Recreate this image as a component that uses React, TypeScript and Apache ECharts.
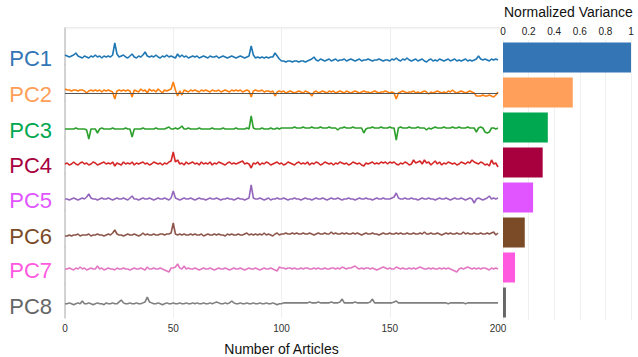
import { useEffect, useRef } from "react";
import * as echarts from "echarts";

const components = ["PC1", "PC2", "PC3", "PC4", "PC5", "PC6", "PC7", "PC8"];

const pc1 = [
  2, 1, 0, 1, 2, 4, 1, 0, -1, 1,
  0, -1, 1, 0, 2, 0, 1, -1, 1, 0,
  1, 0, 2, 14, 3, 0, 1, 2, 0, -1,
  1, 3, 0, -1, 1, 0, 2, 5, 1, 0,
  1, 0, 2, 0, -1, 1, 0, 2, 0, 1,
  0, -1, 3, 0, 2, 0, 1, -1, 0, 1,
  0, 1, -1, 0, 1, 0, -1, 1, 0, 0,
  1, -1, 0, 1, 0, -1, 0, 1, 0, -1,
  0, 1, 0, -1, 0, 1, 11, 2, -1, 0,
  -1, 0, -1, 0, -1, 0, 0, 4, 1, -2,
  -4, -4, -5, -4, -4, -5, -4, -4, -5, -4,
  -4, -5, -4, -3, -2, 0, -3, -4, -2, -3,
  -4, -3, -2, -4, -3, -2, -4, -3, -3, -2,
  -4, -3, -2, -3, -4, -3, -2, -4, -3, -3,
  -2, -3, -4, -3, -3, -2, -3, -4, -3, -3,
  -4, -2, -3, -1, -3, -4, -2, -3, -1, -3,
  -4, -3, -2, -4, -3, -2, -4, -5, -3, -2,
  -4, -3, -4, -2, -3, -4, -3, -2, -4, -3,
  -2, -4, -3, -4, -3, -2, -4, -3, -4, -3,
  -2, 1, -2, -3, -2, -3, -4, -2, -3, -2,
  -3,
];

const pc2 = [
  4, 3, 3, 2, 3, 3, 2, 3, 3, 2,
  0, 2, 3, 2, 3, 2, 3, 1, 3, 2,
  3, 2, 1, -6, 2, 3, 2, 3, 2, 3,
  2, -4, 3, 2, 1, 4, 2, 3, 0, 4,
  2, 3, 1, 4, 2, 0, 3, 2, 3, 4,
  11, 3, -3, 2, -2, 3, 2, 1, 3, 2,
  3, 2, 1, 3, 2, 3, 2, 1, 3, 2,
  2, 3, 1, 2, 3, 2, 1, 3, 2, 3,
  2, 3, 1, 2, 3, 2, -4, 2, 3, 2,
  2, 3, 1, 2, 2, 1, 2, -3, 1, 2,
  1, 2, 0, 1, 2, 1, 0, 1, 2, 1,
  0, 2, 1, 0, -3, 1, 2, 0, 1, 2,
  1, 0, 2, 1, 2, 0, 1, 2, 1, 0,
  2, 1, 0, 1, 2, 1, 0, 1, 2, 1,
  1, 0, 1, 2, 1, 0, 1, 1, 2, 1,
  0, 1, 0, -6, 0, 1, 2, 1, 0, 1,
  1, 2, 0, 1, 0, 1, 2, 1, -1, 1,
  0, 1, 2, 1, 0, 1, 0, 2, 1, 3,
  1, 0, 1, 2, 1, 0, 1, 2, 1, 0,
  -3, -3, -3, -2, -3, -3, -2, -3, -4, -2,
  1,
];

const pc3 = [
  0, 0, 0, 0, 0, 1, 0, 0, 0, 0,
  -1, -10, 0, 0, 0, -4, 0, 1, 0, 0,
  0, 0, 1, 0, 0, 0, 0, 0, 1, 0,
  0, -8, 0, 0, 0, 0, 1, 0, 0, 0,
  0, 0, 1, 0, 0, 0, 0, 1, 2, 0,
  0, 1, 0, 1, 3, 0, 0, 1, 0, 0,
  0, 0, 1, 0, 0, 0, 0, 0, 1, 0,
  0, 0, 0, 1, 0, 0, 0, 0, 0, 1,
  0, 0, 0, 0, 1, 0, 13, 1, 0, 0,
  0, 1, 0, 0, 0, 1, 0, 0, 1, 0,
  1, 1, 1, 1, 1, 1, 2, 1, 1, 1,
  2, 1, 1, 1, 2, 1, 1, 1, 2, 1,
  1, 1, 2, 1, 1, 1, -1, 1, 1, 2,
  1, 1, 1, 2, 1, 1, 1, 1, -4, 0,
  1, 1, 2, 1, 1, 1, 2, 1, 1, 1,
  2, 1, 1, -11, 1, 2, 1, 1, 1, 2,
  1, 1, 1, 2, 1, 1, 1, -1, 1, 0,
  1, 2, 1, 1, 1, 2, 1, 1, 1, 2,
  1, 1, 2, 1, 1, 1, 2, 1, 1, 1,
  -3, 1, 2, 1, -3, -4, -3, 1, 1, 0,
  1,
];

const pc4 = [
  0, 1, -1, 0, 2, 0, -1, 1, 2, 0,
  1, -1, 0, 2, 1, -1, 0, 1, 2, 0,
  1, 0, 2, -2, 1, 0, -1, 2, 0, 1,
  0, 2, -1, 1, 0, 1, 2, 0, 1, -1,
  0, 2, 1, 0, 1, -1, 1, 0, 2, 3,
  12, 2, 4, 0, 1, -1, 2, 0, 1, 2,
  0, 1, -1, 2, 0, 1, 0, 2, -1, 1,
  0, 2, 1, 0, -1, 1, 2, 0, 1, 0,
  1, 2, 3, 0, 1, 0, -4, 1, 0, 2,
  -1, 1, 0, 2, 1, -1, 0, 1, 2, 0,
  1, -1, 0, 2, 1, 0, -1, 1, 2, 0,
  1, 0, 2, -1, 1, 0, 2, 1, -1, 0,
  2, 1, 0, 1, -1, 1, 0, 2, 1, 0,
  1, -1, 0, 2, 1, 0, 1, -1, -2, 1,
  0, 1, 2, 0, 1, 0, 2, 1, 2, 0,
  2, 1, 2, 0, -1, 1, 0, 2, 1, -1,
  0, 4, 1, 2, 3, 0, 4, 1, 2, -1,
  1, 3, 0, 2, -1, 1, 0, 2, 1, 0,
  1, -1, 0, 2, 1, 0, 2, 1, 4, 2,
  1, 0, 2, 1, -1, 0, -2, 4, 0, 1,
  -3,
];

const pc5 = [
  0, 0, -1, 0, 1, 0, -1, 0, 1, 0,
  2, 5, 1, 0, 0, -1, 0, 1, 0, 0,
  1, 0, -1, 0, 1, 0, 0, 1, 0, -1,
  1, 3, 0, 0, -1, 0, 1, 0, 0, 1,
  0, -1, 0, 1, 0, 0, 1, 0, -1, 1,
  8, 1, 0, -1, 0, 1, 0, 0, 1, 0,
  -1, 0, 1, 0, 0, -1, 0, 1, 0, 0,
  1, 0, -1, 0, 0, 1, 0, 0, -1, 0,
  1, 0, 0, -1, 0, 1, 14, 1, 0, 0,
  1, 0, -1, 0, 1, -1, 0, 0, 1, 0,
  0, 1, 0, -1, 0, 0, 1, 0, 0, -1,
  0, 1, 0, 0, -1, 0, 1, 0, 0, 1,
  0, -1, 0, 1, 0, 0, 1, 0, -1, 0,
  0, 1, 0, 0, -1, 0, 1, 0, 0, 1,
  0, 0, -1, 0, 1, 0, 0, 1, 0, 0,
  0, 1, 2, 6, 1, 0, 0, 1, 0, 0,
  1, 0, 0, -1, 0, 1, 0, 0, 1, 0,
  0, -1, 0, 1, 0, 0, 1, 0, -1, 0,
  1, 0, 0, 1, 0, -1, 0, 1, 0, -4,
  0, 1, 0, -1, 0, 1, 3, 0, 1, 0,
  1,
];

const pc6 = [
  -1, -1, 0, -1, 0, 0, 1, -1, 0, 0,
  0, 1, -1, 0, 0, 1, 0, 0, -1, 0,
  1, 0, 2, 5, 1, 0, 0, -1, 0, 1,
  0, 0, 1, 0, -1, 0, 2, 0, 1, 0,
  0, 1, 0, 0, 1, 1, 0, 1, 1, 2,
  12, 1, 0, 1, 0, 1, 0, 0, 1, 0,
  1, 0, 0, 1, -1, 0, 1, 0, 0, 1,
  0, 1, 0, 0, -1, 1, 0, 1, 0, 0,
  1, 0, 0, 1, 2, 0, 1, 0, 1, 0,
  1, 0, 2, 0, 1, 0, -1, 1, 2, 0,
  1, 1, 2, 1, 1, 2, 1, 2, 1, 1,
  2, 1, 1, 2, 1, 0, 1, 2, 1, 1,
  2, 1, 1, 3, 1, 2, 1, 1, 2, 1,
  2, 1, 1, 2, 1, 2, 1, 0, 1, 2,
  1, 1, 2, 1, 1, 0, 1, 2, 1, 1,
  2, 1, 1, 2, 1, 2, 1, 1, 2, 1,
  1, 2, 1, 1, 2, 1, 3, 1, 1, 2,
  1, 1, 2, 1, 0, 1, 2, 1, 2, 1,
  1, 2, 1, 1, 3, 1, 2, 1, 1, 2,
  1, 1, 2, 1, 1, 2, 1, 2, 3, 0,
  2,
];

const pc7 = [
  0, 0, 1, 0, -1, 1, 0, 2, 0, 1,
  -1, 0, 1, 0, 0, 3, 0, 1, -1, 0,
  1, 0, 0, -1, 1, 0, 0, 1, 0, 0,
  -1, 0, 1, 0, 0, 1, 0, -1, 2, 0,
  0, 1, 0, 0, 1, 0, -1, -2, -3, 1,
  1, 2, 5, 1, 0, 3, 0, 1, 0, 0,
  1, 0, -1, 0, 1, 0, 0, 1, 0, -1,
  0, 1, 0, 0, 1, 0, -1, 0, 1, 0,
  0, 1, 0, -1, 0, 1, 0, 0, 1, 0,
  -1, 0, 1, 0, 0, 1, 0, -1, -2, 2,
  1, 1, 0, 1, 1, 0, 1, 0, 0, 1,
  0, 1, 1, 0, 0, 1, 0, 1, 0, 0,
  1, 0, 0, 1, 1, 0, 1, 0, 2, 1,
  0, 1, 1, 2, 3, 1, 0, 1, 0, 1,
  1, 0, 1, 0, -1, 0, 1, 2, 1, 0,
  1, 0, 0, 2, 1, 0, 1, 0, 0, 1,
  0, 1, 0, 1, 2, 1, 0, 0, 1, 0,
  1, 0, 0, 1, 0, 1, 0, 1, 0, -1,
  -2, -3, 0, 1, 0, 1, 2, 1, 0, 1,
  0, 1, 0, 1, 1, 0, -1, 1, 0, 1,
  0,
];

const pc8 = [
  0, 0, 1, 0, -1, 0, 1, 0, 3, 0,
  0, 1, 0, -1, 0, 1, 0, 0, -1, 1,
  0, 0, 1, 0, 0, 2, 4, 1, 0, 0,
  1, 0, 0, 1, 0, 0, 1, 2, 7, 2,
  1, 0, 0, 1, 0, -1, 0, 1, 0, 0,
  1, 0, 0, 1, 0, 0, 1, 0, 0, 1,
  0, 1, 0, 0, 1, 0, 0, 1, 0, 1,
  2, 1, 0, 0, 1, 0, 1, 3, 1, 0,
  0, 1, 0, 0, 1, 0, 0, 1, 0, 0,
  1, 0, 0, 1, 0, 0, 1, 0, -1, 0,
  0, 1, 1, 1, 1, 1, 1, 1, 1, 1,
  1, 1, 1, 2, 1, 1, 1, 2, 1, 1,
  1, 1, 1, 2, 1, 1, 1, 2, 5, 1,
  1, 1, 1, 1, 2, 1, 1, 1, 1, 1,
  1, 2, 5, 1, 1, 1, 1, 1, 1, 1,
  1, 1, 2, 3, 1, 1, 1, 1, 1, 1,
  1, 1, 1, 1, 1, 1, 1, 1, 1, 1,
  1, 1, 1, 1, 1, 1, 1, 0, 1, 1,
  1, 1, 1, 1, 1, 0, 1, 1, 1, 1,
  1, 1, 1, 1, 1, 1, 1, 1, 1, 1,
  1,
];

const pcSeries = [pc1, pc2, pc3, pc4, pc5, pc6, pc7, pc8];

const normalizedVariance = [1, 0.545, 0.35, 0.31, 0.235, 0.17, 0.094, 0.023];

const xTickLabels = ["0", "50", "100", "150", "200"];
const varianceTickLabels = ["0", "0.2", "0.4", "0.6", "0.8", "1"];

const lineColors = ["#1f77b4", "#ff7f0e", "#2ca02c", "#d62728", "#9467bd", "#8c564b", "#e377c2", "#7f7f7f"];
const accentColors = ["#3375b5", "#ff9f5a", "#00a84f", "#a8003f", "#e055ff", "#7b4a27", "#ff5adf", "#666666"];

const FONT = '"Liberation Sans", Arial, Helvetica, sans-serif';

export default function App() {
  const ref = useRef<HTMLDivElement>(null);

  useEffect(() => {
    if (!ref.current) return;
    const chart = echarts.init(ref.current, null, { renderer: "svg" });

    const plotLeft = 65;
    const plotRight = 498;
    const plotTop = 28;
    const plotBottom = 320;
    const rowH = (plotBottom - plotTop) / 8;
    const centers = [57, 93, 129, 164, 199, 235, 269, 305];

    const grids: any[] = [];
    const xAxes: any[] = [];
    const yAxes: any[] = [];
    const series: any[] = [];

    components.forEach((name, k) => {
      const top = plotTop + rowH * k;
      const c = centers[k];
      const last = k === components.length - 1;
      grids.push({ left: plotLeft, top, width: plotRight - plotLeft, height: rowH });
      xAxes.push({
        type: "value",
        gridIndex: k,
        min: 0,
        max: 200,
        interval: 50,
        axisLine: { show: false },
        axisTick: { show: false },
        axisLabel: {
          show: last,
          fontSize: 10,
          color: "#333",
          margin: 5,
          fontFamily: FONT,
          formatter: (v: number) => xTickLabels[Math.round(v / 50)] ?? "",
        },
        splitLine: { show: true, showMaxLine: false, lineStyle: { color: "#efefef", width: 1 } },
        name: last ? "Number of Articles" : "",
        nameLocation: "middle",
        nameGap: 24,
        nameTextStyle: { fontSize: 14, color: "#111", fontFamily: FONT },
      });
      yAxes.push({
        type: "value",
        gridIndex: k,
        min: -(top + rowH - c),
        max: c - top,
        axisLine: { show: true, onZero: false, lineStyle: { color: "#c6c6c6", width: 1.5 } },
        axisTick: { show: false },
        axisLabel: { show: false },
        splitLine: { show: false },
      });
      series.push({
        type: "line",
        name,
        xAxisIndex: k,
        yAxisIndex: k,
        data: pcSeries[k].map((v, i) => [i, v]),
        symbol: "none",
        showSymbol: false,
        clip: false,
        lineStyle: { color: lineColors[k], width: 1.6 },
        itemStyle: { color: lineColors[k] },
        z: 3,
        ...(k === 1
          ? {
              markLine: {
                silent: true,
                symbol: "none",
                label: { show: false },
                lineStyle: { color: "#555", width: 1, type: "solid" },
                data: [{ yAxis: 0 }],
              },
            }
          : {}),
      });
    });

    // bar chart grid
    const barIdx = components.length;
    grids.push({ left: 503, top: 40, width: 128, height: 280 });
    xAxes.push({
      type: "value",
      gridIndex: barIdx,
      position: "top",
      min: 0,
      max: 1,
      interval: 0.2,
      axisLine: { show: false },
      axisTick: { show: false },
      axisLabel: {
        fontSize: 10,
        color: "#222",
        margin: 4,
        fontFamily: FONT,
        formatter: (v: number) => varianceTickLabels[Math.round(v / 0.2)] ?? "",
      },
      splitLine: { show: true, lineStyle: { color: "#f0f0f0", width: 1 } },
    });
    yAxes.push({
      type: "category",
      gridIndex: barIdx,
      data: components,
      inverse: true,
      show: false,
    });
    series.push({
      type: "bar",
      name: "Normalized Variance",
      xAxisIndex: barIdx,
      yAxisIndex: barIdx,
      barWidth: 30,
      data: normalizedVariance.map((v, k) => ({ value: v, itemStyle: { color: accentColors[k] } })),
    });

    const graphics: any[] = [
      {
        type: "rect",
        shape: { x: plotLeft, y: plotTop - 1, width: plotRight - plotLeft + 2, height: 4 },
        style: {
          fill: new echarts.graphic.LinearGradient(0, 0, 0, 1, [
            { offset: 0, color: "#e6e6e6" },
            { offset: 1, color: "rgba(255,255,255,0)" },
          ]),
        },
        silent: true,
        z: 0,
      },
      ...components.map((name, k) => ({
        type: "text",
        x: 52,
        y: centers[k] + 1,
        style: {
          text: name,
          fill: accentColors[k],
          fontSize: 22,
          fontFamily: FONT,
          align: "right",
          verticalAlign: "middle",
        },
        silent: true,
      })),
    ];

    chart.setOption({
      animation: false,
      textStyle: { fontFamily: FONT },
      title: {
        text: "Normalized Variance",
        left: 504,
        top: 5,
        padding: 0,
        textStyle: { fontSize: 14, fontWeight: "normal", color: "#111", fontFamily: FONT },
      },
      grid: grids,
      xAxis: xAxes,
      yAxis: yAxes,
      series,
      graphic: graphics,
    });

    return () => chart.dispose();
  }, []);

  return (
    <div
      ref={ref}
      style={{ position: "fixed", left: 0, top: 0, width: 638, height: 357, background: "#fff" }}
    />
  );
}
